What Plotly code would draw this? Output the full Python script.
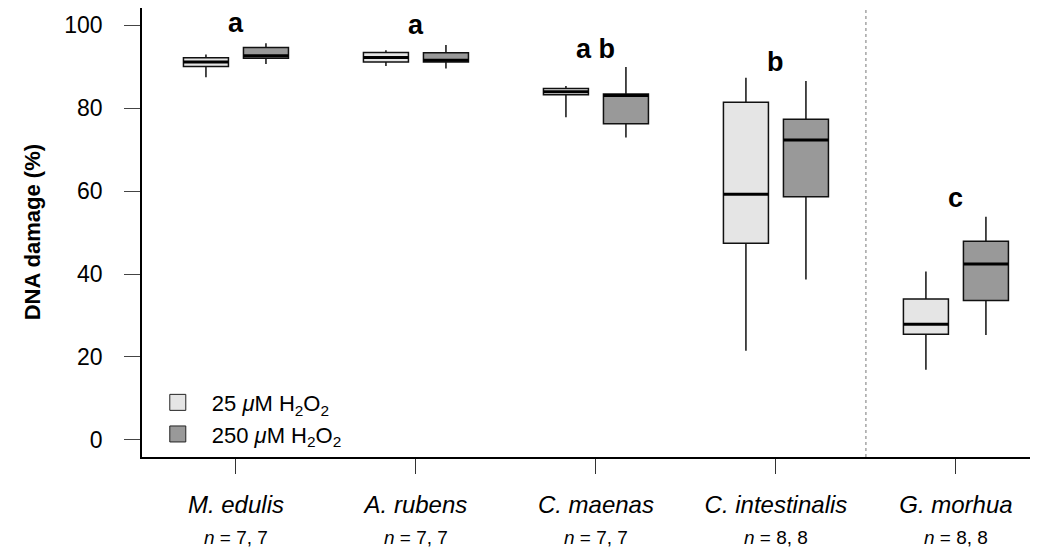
import plotly.graph_objects as go

species = ["M. edulis", "A. rubens", "C. maenas", "C. intestinalis", "G. morhua"]
n_labels = ["7, 7", "7, 7", "7, 7", "8, 8", "8, 8"]
letters = ["a", "a", "a b", "b", "c"]
letter_y = [100.6, 99.9, 94.3, 91.2, 58.3]

# 25 uM H2O2 (light)
low_lo = [87.4, 90.1, 77.8, 21.5, 16.9]
low_q1 = [90.0, 91.1, 83.2, 47.4, 25.5]
low_med = [91.1, 92.2, 83.9, 59.2, 27.9]
low_q3 = [92.1, 93.4, 84.7, 81.4, 34.0]
low_hi = [92.9, 93.9, 85.3, 87.3, 40.6]

# 250 uM H2O2 (dark)
high_lo = [90.6, 89.5, 72.9, 38.7, 25.3]
high_q1 = [92.0, 91.1, 76.2, 58.6, 33.6]
high_med = [92.6, 91.5, 83.0, 72.3, 42.4]
high_q3 = [94.6, 93.3, 83.4, 77.3, 47.9]
high_hi = [95.6, 95.2, 89.9, 86.5, 53.8]

LIGHT = "#e5e5e5"
DARK = "#999999"
FONT = "Liberation Sans, Arial, Helvetica, sans-serif"
OFF = 0.1667
BW = 0.25

pos = list(range(1, len(species) + 1))
x_low = [p - OFF for p in pos]
x_high = [p + OFF for p in pos]

fig = go.Figure()


def add_box(xs, lo, q1, med, q3, hi, fill):
    fig.add_trace(go.Box(
        x=xs, q1=q1, median=med, q3=q3, lowerfence=lo, upperfence=hi,
        width=BW, fillcolor=fill, line=dict(color="#111111", width=1.5),
        whiskerwidth=0, boxpoints=False, showlegend=False, hoverinfo="skip",
    ))
    mx, my = [], []
    for x, m in zip(xs, med):
        mx += [x - BW / 2, x + BW / 2, None]
        my += [m, m, None]
    fig.add_trace(go.Scatter(x=mx, y=my, mode="lines",
                             line=dict(color="black", width=3),
                             showlegend=False, hoverinfo="skip"))


add_box(x_low, low_lo, low_q1, low_med, low_q3, low_hi, LIGHT)
add_box(x_high, high_lo, high_q1, high_med, high_q3, high_hi, DARK)

# legend entries
for name, col in [("25 <i>\u03bc</i>M H<sub>2</sub>O<sub>2</sub>", LIGHT),
                  ("250 <i>\u03bc</i>M H<sub>2</sub>O<sub>2</sub>", DARK)]:
    fig.add_trace(go.Scatter(x=[None], y=[None], mode="markers", name=name,
                             marker=dict(symbol="square", size=16, color=col,
                                         line=dict(color="#222222", width=1))))

annotations = []
for p, t, yv in zip(pos, letters, letter_y):
    annotations.append(dict(x=p, y=yv, xref="x", yref="y", text="<b>%s</b>" % t,
                            showarrow=False, yanchor="middle",
                            font=dict(family=FONT, size=27, color="black")))
for p, n in zip(pos, n_labels):
    annotations.append(dict(x=p, y=0, xref="x", yref="paper", yshift=-80,
                            yanchor="middle",
                            text="<i>n</i> = %s" % n, showarrow=False,
                            font=dict(family=FONT, size=19, color="black")))
annotations.append(dict(x=-0.138, y=0.5, xref="paper", yref="paper",
                        text="<b>DNA damage (%)</b>", textangle=-90, showarrow=False,
                        font=dict(family=FONT, size=22, color="black")))

fig.update_layout(
    width=1030, height=540,
    margin=dict(l=134, r=0, t=0, b=91, pad=0),
    paper_bgcolor="white", plot_bgcolor="white",
    font=dict(family=FONT, size=22, color="black"),
    boxmode="overlay",
    annotations=annotations,
    legend=dict(x=0.002, y=0.168, xanchor="left", yanchor="top",
                font=dict(family=FONT, size=22), itemwidth=58,
                bgcolor="rgba(0,0,0,0)", tracegroupgap=0),
    shapes=[dict(type="line", xref="x", yref="paper",
                 x0=(pos[3] + pos[4]) / 2, x1=(pos[3] + pos[4]) / 2, y0=0, y1=1,
                 line=dict(color="#777777", width=1, dash="dot"))],
)

fig.update_xaxes(
    range=[0.478, 5.456], tickmode="array", tickvals=pos,
    ticktext=["<i>%s</i>" % s for s in species],
    showline=True, linecolor="black", linewidth=1.5,
    ticks="outside", ticklen=15, tickcolor="#333333", tickwidth=1,
    ticklabelstandoff=10,
    showgrid=False, zeroline=False, tickfont=dict(family=FONT, size=24),
)
fig.update_yaxes(
    range=[-4.1, 104.1], tickvals=[0, 20, 40, 60, 80, 100],
    showline=True, linecolor="black", linewidth=1.5,
    ticks="outside", ticklen=16, tickcolor="#444444", tickwidth=1,
    ticklabelstandoff=17,
    showgrid=False, zeroline=False, tickfont=dict(family=FONT, size=23),
)

fig.write_html("out.html")
